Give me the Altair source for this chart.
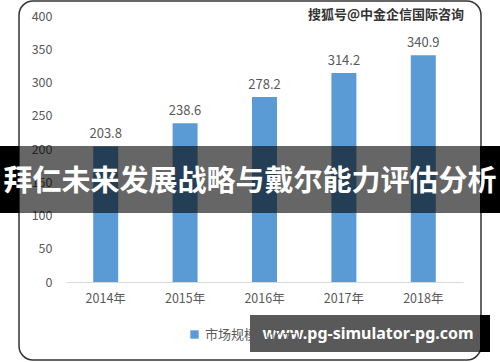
import altair as alt
import pandas as pd

years = ["2014年", "2015年", "2016年", "2017年", "2018年"]
values = [203.8, 238.6, 278.2, 314.2, 340.9]
series = ["市场规模（亿元）"] * 5
y_ticks = [0, 50, 100, 150, 200, 250, 300, 350, 400]
banner_text = "拜仁未来发展战略与戴尔能力评估分析"
wm_top = "搜狐号@中金企信国际咨询"
wm_bottom = "www.pg-simulator-pg.com"

df = pd.DataFrame({"year": years, "value": values, "series": series})
one = pd.DataFrame({"k": [0]})

OX, OY = 66, 16  # plot origin in page pixels
W, H = 397, 266
FONT = "Noto Sans CJK SC"

def px(x):
    return x - OX

def py(y):
    return y - OY

x_axis = alt.Axis(labelAngle=0, labelColor="#595959", labelFontSize=12.5,
                  labelFont=FONT, domainColor="#D9D9D9", ticks=False,
                  labelPadding=10, labelOverlap=False)
y_axis = alt.Axis(values=y_ticks, grid=False, domain=False, ticks=False,
                  labelColor="#595959", labelFontSize=12.5, labelFont=FONT,
                  labelPadding=14, labelOverlap=False, tickCount=9)
x_enc = alt.X("year:N", sort=years, title=None,
              scale=alt.Scale(paddingInner=0.68, paddingOuter=0.34), axis=x_axis)
y_enc = alt.Y("value:Q", title=None, scale=alt.Scale(domain=[0, 400]), axis=y_axis)

base = alt.Chart(df)

bars = base.mark_bar(size=25).encode(
    x=x_enc,
    y=y_enc,
    color=alt.Color("series:N", scale=alt.Scale(range=["#5B9BD5"]),
                    legend=alt.Legend(orient="none", legendX=px(188), legendY=py(328),
                                      title=None, symbolType="square", symbolSize=70,
                                      labelFontSize=13, labelColor="#595959",
                                      labelFont=FONT)),
)

labels = base.mark_text(dy=-12, fontSize=13, color="#595959", font=FONT).encode(
    x=x_enc,
    y=y_enc,
    text=alt.Text("value:Q", format=".1f"),
)

border = alt.Chart(one).mark_rect(fill=None, stroke="#333333", strokeWidth=1.5,
                                  cornerRadius=14).encode(
    x=alt.value(px(19)), x2=alt.value(px(481)),
    y=alt.value(py(1)), y2=alt.value(py(360)),
)

wm1 = alt.Chart(one).mark_text(text=wm_top, fontSize=13, color="#333333",
                               font=FONT, fontWeight="bold", align="center",
                               baseline="middle").encode(
    x=alt.value(px(386)), y=alt.value(py(15)))

banner_bg = alt.Chart(one).mark_rect(color="black", opacity=0.6).encode(
    x=alt.value(px(0)), x2=alt.value(px(500)),
    y=alt.value(py(146)), y2=alt.value(py(213)))
banner_l = alt.Chart(one).mark_rect(color="black").encode(
    x=alt.value(px(0)), x2=alt.value(px(19)),
    y=alt.value(py(146)), y2=alt.value(py(213)))
banner_r = alt.Chart(one).mark_rect(color="black").encode(
    x=alt.value(px(480)), x2=alt.value(px(500)),
    y=alt.value(py(146)), y2=alt.value(py(213)))
banner_t = alt.Chart(one).mark_text(text=banner_text, fontSize=29, color="white",
                                    font=FONT, fontWeight="bold", align="center",
                                    baseline="middle").encode(
    x=alt.value(px(250)), y=alt.value(py(182)))

wm2_bg = alt.Chart(one).mark_rect(color="black", opacity=0.65).encode(
    x=alt.value(px(250)), x2=alt.value(px(480)),
    y=alt.value(py(315)), y2=alt.value(py(352)))
wm2_r = alt.Chart(one).mark_rect(color="black").encode(
    x=alt.value(px(480)), x2=alt.value(px(490)),
    y=alt.value(py(315)), y2=alt.value(py(352)))
wm2_t = alt.Chart(one).mark_text(text=wm_bottom, fontSize=16, color="white",
                                 font="Noto Sans", fontWeight="bold", align="center",
                                 baseline="middle").encode(
    x=alt.value(px(368)), y=alt.value(py(334)))

chart = alt.layer(
    border, bars, labels, wm1, banner_bg, banner_l, banner_r, banner_t,
    wm2_bg, wm2_r, wm2_t
).resolve_scale(color="independent").properties(
    width=W, height=H,
    padding={"left": OX, "top": OY, "right": 500 - OX - W, "bottom": 362 - OY - H},
    autosize=alt.AutoSizeParams(type="none"),
    background="white",
).configure_view(stroke=None)

chart.save("out.html", embed_options={"renderer": "svg", "actions": False})
